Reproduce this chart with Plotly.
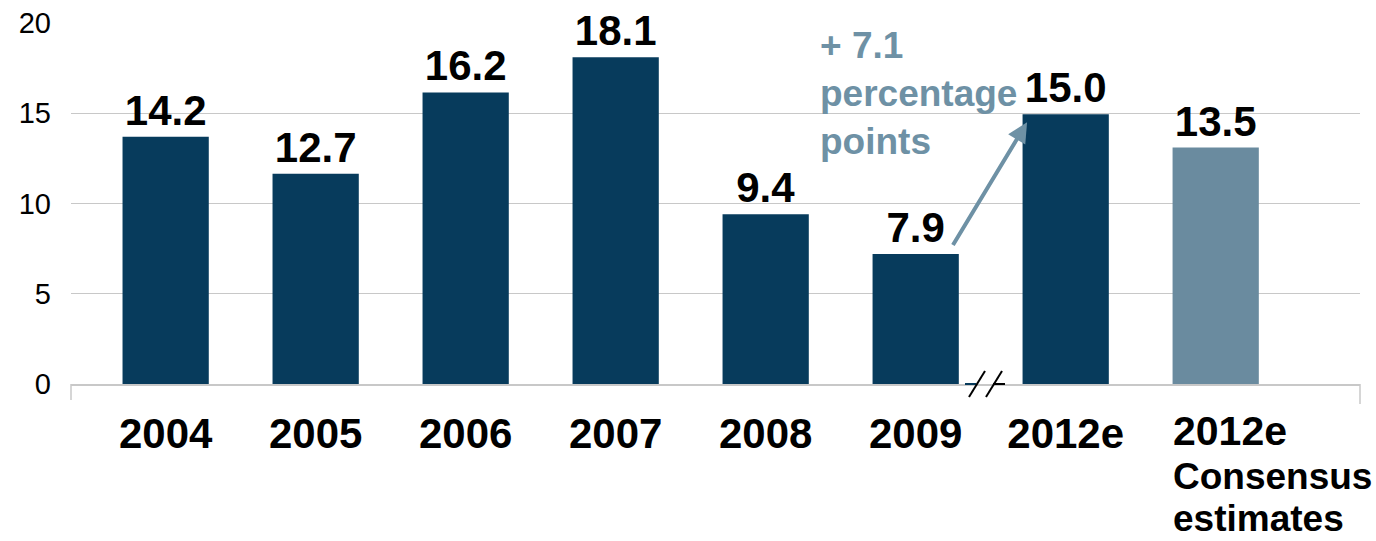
import plotly.graph_objects as go

# ---- data ----
categories = ["2004", "2005", "2006", "2007", "2008", "2009", "2012e", "2012e Consensus estimates"]
tick_text = ["2004", "2005", "2006", "2007", "2008", "2009", "2012e", ""]
bar_heights = [13.7, 11.65, 16.15, 18.1, 9.4, 7.2, 14.95, 13.1]
value_labels = ["14.2", "12.7", "16.2", "18.1", "9.4", "7.9", "15.0", "13.5"]
consensus_label_lines = ["2012e", "Consensus", "estimates"]
consensus_line_sizes = [41, 37, 37]
change_note = "+ 7.1<br>percentage<br>points"
y_ticks = [0, 5, 10, 15, 20]

DARK = "#073B5C"
LIGHT = "#6A8B9F"
NOTE = "#6E91A5"
FONT = "Liberation Sans, Arial, sans-serif"
BAR_W = 0.575

colors = [DARK] * 7 + [LIGHT]

# geometry helpers (pixel -> paper) for decorative shapes
W, H = 1376, 541
ML, MR, MT, MB = 71, 16, 23, 157
PW, PH = W - ML - MR, H - MT - MB


def px(xp):
    return (xp - ML) / PW


def py(yp):
    return (H - MB - yp) / PH


fig = go.Figure()
fig.add_trace(go.Bar(
    x=categories,
    y=bar_heights,
    width=BAR_W,
    marker=dict(color=colors, line=dict(width=0)),
    text=value_labels,
    textposition="outside",
    constraintext="none",
    cliponaxis=False,
    textfont=dict(family=FONT, size=42, color="black", weight="bold"),
    hoverinfo="skip",
))

annotations = []
# consensus category label (left aligned, tight lines)
cons_x = 7 - BAR_W / 2
shifts = [-22, -70, -112]
for line, size, sh in zip(consensus_label_lines, consensus_line_sizes, shifts):
    annotations.append(dict(
        x=cons_x, xref="x", xanchor="left", xshift=-2,
        y=0, yref="paper", yanchor="top",
        yshift=sh,
        text="<b>%s</b>" % line, showarrow=False, align="left",
        font=dict(family=FONT, size=size, color="black"),
    ))

# change note
annotations.append(dict(
    x=px(818), xref="paper", xanchor="left",
    y=py(23), yref="paper", yanchor="top",
    text="<b>%s</b>" % change_note, showarrow=False, align="left",
    font=dict(family=FONT, size=37, color=NOTE),
))

# arrow from 2009 bar to 2012e bar
annotations.append(dict(
    x=6 - BAR_W / 2 + 0.03, y=bar_heights[6] - 0.45, xref="x", yref="y",
    ax=5 + BAR_W / 2 - 0.045, ay=bar_heights[5] + 0.42, axref="x", ayref="y",
    text="", showarrow=True, arrowhead=2, arrowsize=1.0, arrowwidth=4,
    arrowcolor=NOTE, standoff=0, startstandoff=0,
))

shapes = [
    # end ticks of the category axis
    dict(type="line", xref="paper", yref="paper", x0=0, x1=0, y0=0, y1=py(400),
         line=dict(color="#C8C8C8", width=1.5)),
    dict(type="line", xref="paper", yref="paper", x0=1, x1=1, y0=0, y1=py(404),
         line=dict(color="#C8C8C8", width=1.5)),
    # axis break mark
    dict(type="line", xref="paper", yref="paper", x0=px(965), x1=px(976), y0=py(384), y1=py(384),
         line=dict(color=DARK, width=2)),
    dict(type="line", xref="paper", yref="paper", x0=px(993), x1=px(1005), y0=py(384), y1=py(384),
         line=dict(color="black", width=2)),
    dict(type="line", xref="paper", yref="paper", x0=px(969), x1=px(985), y0=py(397), y1=py(371),
         line=dict(color="black", width=2)),
    dict(type="line", xref="paper", yref="paper", x0=px(986), x1=px(1002), y0=py(397), y1=py(371),
         line=dict(color="black", width=2)),
]

fig.update_layout(
    width=W, height=H,
    margin=dict(l=ML, r=MR, t=MT, b=MB, pad=0, autoexpand=False),
    paper_bgcolor="white", plot_bgcolor="white",
    showlegend=False,
    bargap=0.4,
    annotations=annotations,
    shapes=shapes,
    font=dict(family=FONT),
)
fig.update_xaxes(
    type="category",
    range=[-0.631, 7.962],
    tickmode="array", tickvals=categories, ticktext=tick_text,
    tickfont=dict(family=FONT, size=42, color="black", weight="bold"),
    ticks="", ticklabelstandoff=12,
    showline=True, linecolor="#C8C8C8", linewidth=1.5,
    showgrid=False, zeroline=False, fixedrange=True, automargin=False,
)
fig.update_yaxes(
    range=[0, 20],
    tickmode="array", tickvals=y_ticks,
    tickfont=dict(family=FONT, size=29, color="black"),
    ticks="", ticklabelstandoff=19,
    showgrid=True, gridcolor="#C8C8C8", gridwidth=1.3,
    showline=False, zeroline=False, fixedrange=True, automargin=False,
)

fig.write_html(
    "out.html",
    config={"displayModeBar": False},
    post_script="document.body.style.margin='0';document.body.style.overflow='hidden';",
)
